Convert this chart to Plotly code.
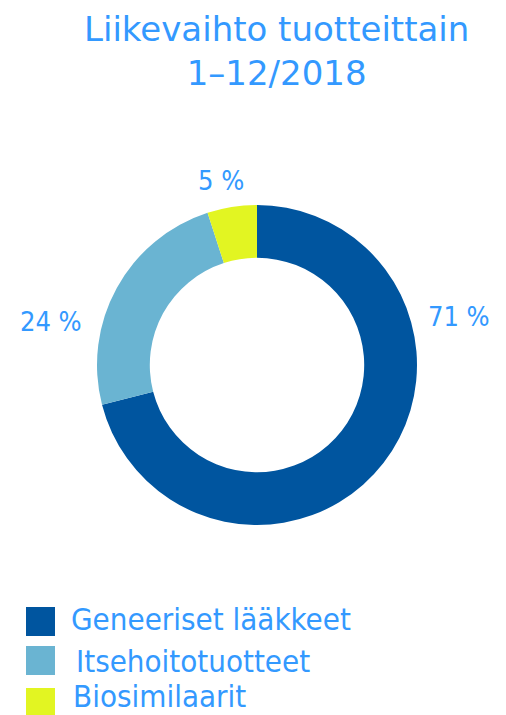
import plotly.graph_objects as go

# Data
categories = ["Geneeriset lääkkeet", "Itsehoitotuotteet", "Biosimilaarit"]
values = [71, 24, 5]
colors = ["#00559f", "#6ab4d2", "#e2f522"]
title_lines = ["Liikevaihto tuotteittain", "1–12/2018"]

W, H = 506, 715
OFF = 8  # page body margin offset
TEXT = "#3399ff"
FONT = "DejaVu Sans"
FONT_C = "DejaVu Sans Condensed, DejaVu Sans"

def px(x):
    return (x - OFF) / W

def py(y):
    return 1 - (y - OFF) / H

fig = go.Figure()
fig.add_trace(go.Pie(
    labels=categories,
    values=values,
    marker=dict(colors=colors, line=dict(width=0)),
    hole=0.67,
    sort=False,
    direction="clockwise",
    rotation=0,
    textinfo="none",
    hoverinfo="label+percent",
    showlegend=False,
    domain=dict(x=[px(97), px(417)], y=[py(525), py(205)]),
))

annotations = []
# title (two lines in one text)
annotations.append(dict(text="<br>".join(title_lines), x=px(276), y=1, xref="paper", yref="paper",
                        xanchor="center", yanchor="top", showarrow=False, borderpad=0,
                        font=dict(family=FONT, size=34, color=TEXT)))
# percentage labels
label_pos = [(459, 316), (51, 321), (221, 180)]
for v, (lx, ly) in zip(values, label_pos):
    annotations.append(dict(text=f"{v} %", x=px(lx), y=py(ly), xref="paper", yref="paper",
                            xanchor="center", yanchor="middle", showarrow=False,
                            font=dict(family=FONT_C, size=27, color=TEXT)))
# legend
shapes = []
leg_rows = [(607, 619, 69), (646, 661, 74), (688, 696, 71)]
for cat, col, (sq_top, ty, tx) in zip(categories, colors, leg_rows):
    shapes.append(dict(type="rect", xref="paper", yref="paper",
                       x0=px(26), x1=px(55), y0=py(sq_top + 29), y1=py(sq_top),
                       fillcolor=col, line=dict(width=0)))
    annotations.append(dict(text=cat, x=px(tx), y=py(ty), xref="paper", yref="paper",
                            xanchor="left", yanchor="middle", showarrow=False,
                            font=dict(family=FONT_C, size=31, color=TEXT)))

fig.update_layout(
    width=W, height=H,
    margin=dict(l=0, r=0, t=0, b=0),
    paper_bgcolor="white", plot_bgcolor="white",
    annotations=annotations, shapes=shapes,
    showlegend=False,
)

fig.write_html("out.html")
